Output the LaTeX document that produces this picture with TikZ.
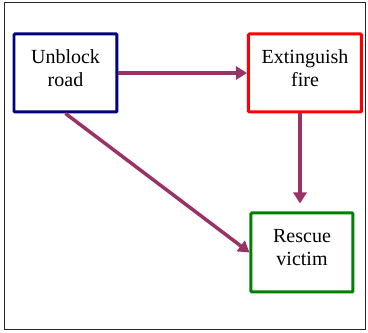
\documentclass[tikz,border=0pt]{standalone}
\usepackage{fontspec}
\setmainfont{Liberation Serif}
\newfontfamily\boxfont{Liberation Serif}
\usetikzlibrary{arrows.meta,calc}
\definecolor{arrowc}{HTML}{993366}
\definecolor{navyc}{HTML}{000080}
\definecolor{greenc}{HTML}{008000}
\begin{document}
\begin{tikzpicture}[x=1pt,y=1pt,
  box/.style={draw,line width=3pt,rounded corners=1pt,inner sep=0pt},
  lbl/.style={align=center,font=\boxfont\fontsize{20}{23}\selectfont,inner sep=0pt},
  conn/.style={draw=arrowc,line width=3.5pt,-{Triangle[length=11pt,width=13pt]}}]
\useasboundingbox (0,0) rectangle (368,333);
\draw[line width=1pt,black!85] (5,3) rectangle (366,330);
\node[box,draw=navyc,minimum width=103pt,minimum height=78pt] (A) at (65.5,260) {};
\node[box,draw=red,minimum width=113pt,minimum height=78pt] (B) at (305,260) {};
\node[box,draw=greenc,minimum width=102pt,minimum height=79pt] (C) at (302,80.5) {};
\node[lbl] (At) at ($(A.center)+(0,5)$) {Unblock\\road};
\node[lbl] (Bt) at ($(B.center)+(0,5)$) {Extinguish\\fire};
\node[lbl] (Ct) at ($(C.center)+(0,5)$) {Rescue\\victim};
\coordinate (Bs) at ($(B.south)+(-5,0)$);
\coordinate (Cn) at ($(C.north)+(-2,8)$);
\draw[conn] (A.east) -- (B.west);
\draw[conn] (Bs) -- (Cn);
\draw[conn] (A.south) -- (C.west);
\end{tikzpicture}
\end{document}
